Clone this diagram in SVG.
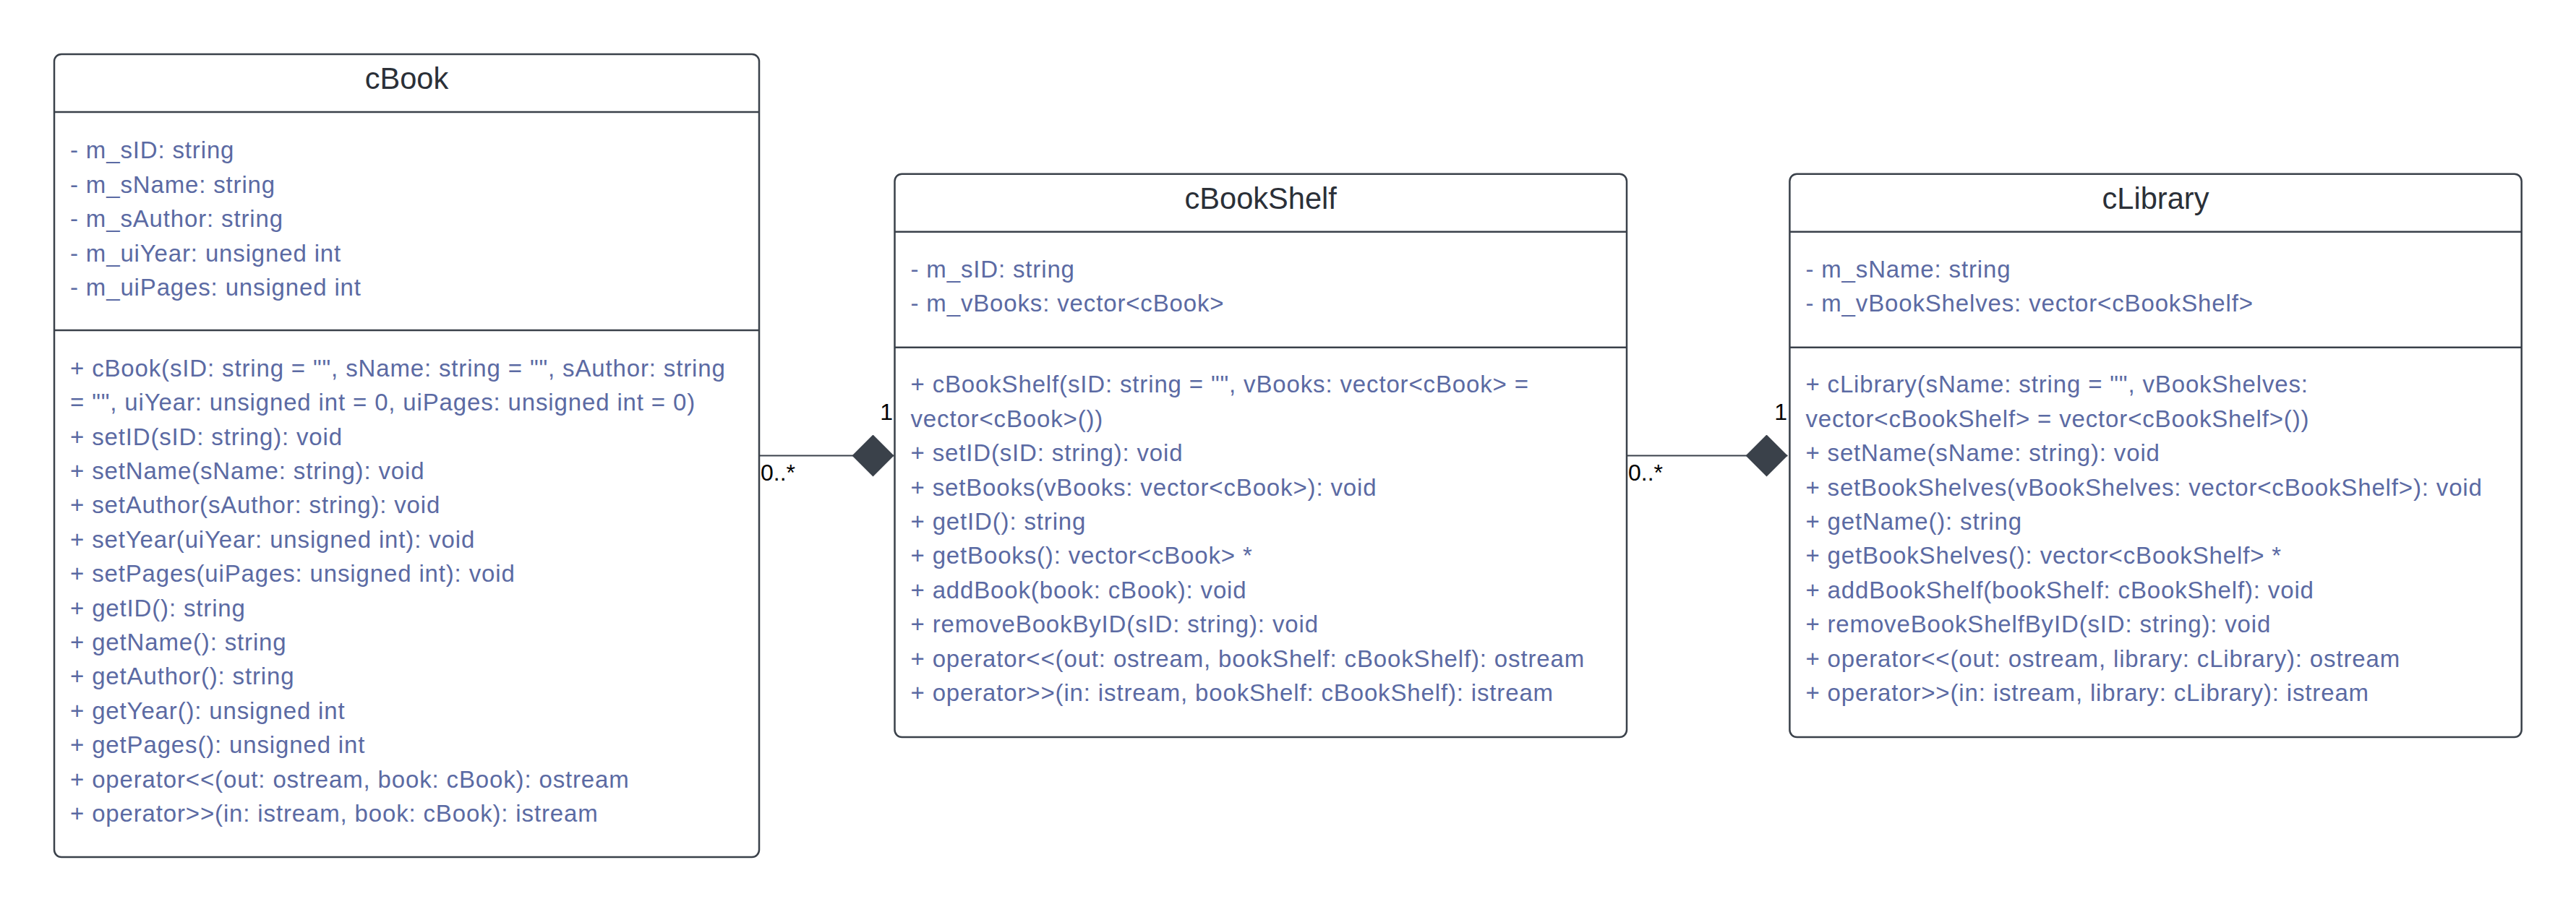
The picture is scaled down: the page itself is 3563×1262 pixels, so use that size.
<svg xmlns="http://www.w3.org/2000/svg" width="3563" height="1262" viewBox="0 0 3563 1262">
<style>
.box{fill:#ffffff;stroke:#3a414a;stroke-width:2.5}
.sep{stroke:#3a414a;stroke-width:2.5}
.title{font-family:"Liberation Sans",Arial,sans-serif;font-size:41.6px;fill:#2b3038;text-anchor:middle}
.body{font-family:"Liberation Sans",Arial,sans-serif;font-size:33px;letter-spacing:0.85px;fill:#5b6aa3}
.lbl{font-family:"Liberation Sans",Arial,sans-serif;font-size:32px;fill:#000000}
.conn{stroke:#3a414a;stroke-width:2;fill:none}
</style>
<defs>
<marker id="diamond" viewBox="0 0 58 58" refX="58" refY="29" markerWidth="58" markerHeight="58" markerUnits="userSpaceOnUse" orient="auto">
<path d="M0,29 L29,0 L58,29 L29,58 Z" fill="#3a414a"/>
</marker>
</defs>
<rect width="3563" height="1262" fill="#ffffff"/>

<g id="cBook">
<rect class="box" x="75" y="75" width="975" height="1111" rx="10" ry="10"/>
<line class="sep" x1="75" y1="155" x2="1050" y2="155"/>
<line class="sep" x1="75" y1="457" x2="1050" y2="457"/>
<text class="title" x="562.5" y="123.3">cBook</text>
<text class="body" x="97" y="219.3">
<tspan x="97">- m_sID: string</tspan>
<tspan x="97" dy="47.4">- m_sName: string</tspan>
<tspan x="97" dy="47.4">- m_sAuthor: string</tspan>
<tspan x="97" dy="47.4">- m_uiYear: unsigned int</tspan>
<tspan x="97" dy="47.4">- m_uiPages: unsigned int</tspan>
</text>
<text class="body" x="97" y="520.7">
<tspan x="97">+ cBook(sID: string = "", sName: string = "", sAuthor: string</tspan>
<tspan x="97" dy="47.4">= "", uiYear: unsigned int = 0, uiPages: unsigned int = 0)</tspan>
<tspan x="97" dy="47.4">+ setID(sID: string): void</tspan>
<tspan x="97" dy="47.4">+ setName(sName: string): void</tspan>
<tspan x="97" dy="47.4">+ setAuthor(sAuthor: string): void</tspan>
<tspan x="97" dy="47.4">+ setYear(uiYear: unsigned int): void</tspan>
<tspan x="97" dy="47.4">+ setPages(uiPages: unsigned int): void</tspan>
<tspan x="97" dy="47.4">+ getID(): string</tspan>
<tspan x="97" dy="47.4">+ getName(): string</tspan>
<tspan x="97" dy="47.4">+ getAuthor(): string</tspan>
<tspan x="97" dy="47.4">+ getYear(): unsigned int</tspan>
<tspan x="97" dy="47.4">+ getPages(): unsigned int</tspan>
<tspan x="97" dy="47.4">+ operator&lt;&lt;(out: ostream, book: cBook): ostream</tspan>
<tspan x="97" dy="47.4">+ operator&gt;&gt;(in: istream, book: cBook): istream</tspan>
</text>
</g>

<g id="cBookShelf">
<rect class="box" x="1237.5" y="240.7" width="1012.5" height="779.3" rx="10" ry="10"/>
<line class="sep" x1="1237.5" y1="320.7" x2="2250" y2="320.7"/>
<line class="sep" x1="1237.5" y1="480.7" x2="2250" y2="480.7"/>
<text class="title" x="1743.7" y="289.3">cBookShelf</text>
<text class="body" x="1259.5" y="384">
<tspan x="1259.5">- m_sID: string</tspan>
<tspan x="1259.5" dy="47.4">- m_vBooks: vector&lt;cBook&gt;</tspan>
</text>
<text class="body" x="1259.5" y="543.3">
<tspan x="1259.5">+ cBookShelf(sID: string = "", vBooks: vector&lt;cBook&gt; =</tspan>
<tspan x="1259.5" dy="47.4">vector&lt;cBook&gt;())</tspan>
<tspan x="1259.5" dy="47.4">+ setID(sID: string): void</tspan>
<tspan x="1259.5" dy="47.4">+ setBooks(vBooks: vector&lt;cBook&gt;): void</tspan>
<tspan x="1259.5" dy="47.4">+ getID(): string</tspan>
<tspan x="1259.5" dy="47.4">+ getBooks(): vector&lt;cBook&gt; *</tspan>
<tspan x="1259.5" dy="47.4">+ addBook(book: cBook): void</tspan>
<tspan x="1259.5" dy="47.4">+ removeBookByID(sID: string): void</tspan>
<tspan x="1259.5" dy="47.4">+ operator&lt;&lt;(out: ostream, bookShelf: cBookShelf): ostream</tspan>
<tspan x="1259.5" dy="47.4">+ operator&gt;&gt;(in: istream, bookShelf: cBookShelf): istream</tspan>
</text>
</g>

<g id="cLibrary">
<rect class="box" x="2475.4" y="240.7" width="1012.3" height="779.3" rx="10" ry="10"/>
<line class="sep" x1="2475.4" y1="320.7" x2="3487.7" y2="320.7"/>
<line class="sep" x1="2475.4" y1="480.7" x2="3487.7" y2="480.7"/>
<text class="title" x="2981.5" y="289.3">cLibrary</text>
<text class="body" x="2497.4" y="384">
<tspan x="2497.4">- m_sName: string</tspan>
<tspan x="2497.4" dy="47.4">- m_vBookShelves: vector&lt;cBookShelf&gt;</tspan>
</text>
<text class="body" x="2497.4" y="543.3">
<tspan x="2497.4">+ cLibrary(sName: string = "", vBookShelves:</tspan>
<tspan x="2497.4" dy="47.4">vector&lt;cBookShelf&gt; = vector&lt;cBookShelf&gt;())</tspan>
<tspan x="2497.4" dy="47.4">+ setName(sName: string): void</tspan>
<tspan x="2497.4" dy="47.4">+ setBookShelves(vBookShelves: vector&lt;cBookShelf&gt;): void</tspan>
<tspan x="2497.4" dy="47.4">+ getName(): string</tspan>
<tspan x="2497.4" dy="47.4">+ getBookShelves(): vector&lt;cBookShelf&gt; *</tspan>
<tspan x="2497.4" dy="47.4">+ addBookShelf(bookShelf: cBookShelf): void</tspan>
<tspan x="2497.4" dy="47.4">+ removeBookShelfByID(sID: string): void</tspan>
<tspan x="2497.4" dy="47.4">+ operator&lt;&lt;(out: ostream, library: cLibrary): ostream</tspan>
<tspan x="2497.4" dy="47.4">+ operator&gt;&gt;(in: istream, library: cLibrary): istream</tspan>
</text>
</g>

<g id="connectors">
<line class="conn" x1="1050" y1="630.5" x2="1236.5" y2="630.5" marker-end="url(#diamond)"/>
<text class="lbl" x="1052" y="665">0..*</text>
<text class="lbl" x="1235" y="580.7" text-anchor="end">1</text>
<line class="conn" x1="2250" y1="630.5" x2="2472.5" y2="630.5" marker-end="url(#diamond)"/>
<text class="lbl" x="2252" y="665">0..*</text>
<text class="lbl" x="2472" y="580.7" text-anchor="end">1</text>
</g>
</svg>
